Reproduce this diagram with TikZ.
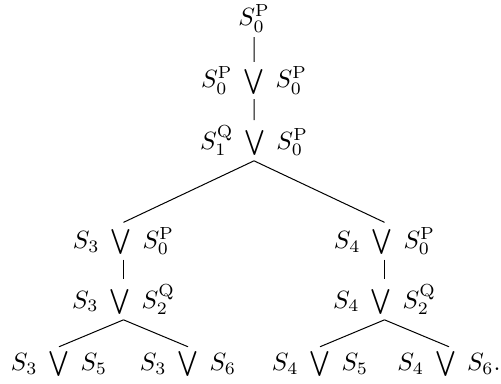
\documentclass[tikz,border=0pt]{standalone}
\begin{document}
\begin{tikzpicture}[every node/.style={inner sep=1.8pt},
  edge from parent/.style={draw},
  edge from parent path={(\tikzparentnode.south) -- (\tikzchildnode.north)},
  level 1/.style={level distance=24.8pt},
  level 2/.style={level distance=24pt},
  level 3/.style={level distance=40.2pt, sibling distance=104.4pt},
  level 4/.style={level distance=23.4pt},
  level 5/.style={level distance=25.9pt, sibling distance=51.6pt}]
\useasboundingbox (0,0) rectangle (200.4pt,153.2pt);
\node (root) at (101.6pt,145.8pt) {$S_0^{\mathrm{P}}$}
  child { node (top) {$S_0^{\mathrm{P}} \;\bigvee\; S_0^{\mathrm{P}}$}
    child { node (mid) {$S_1^{\mathrm{Q}} \;\bigvee\; S_0^{\mathrm{P}}$}
      child { node (left) {$S_3 \;\bigvee\; S_0^{\mathrm{P}}$}
        child { node (leftq) {$S_3 \;\bigvee\; S_2^{\mathrm{Q}}$}
          child { node (leaf1) {$S_3 \;\bigvee\; S_5$} }
          child { node (leaf2) {$S_3 \;\bigvee\; S_6$} } } }
      child { node (right) {$S_4 \;\bigvee\; S_0^{\mathrm{P}}$}
        child { node (rightq) {$S_4 \;\bigvee\; S_2^{\mathrm{Q}}$}
          child { node (leaf3) {$S_4 \;\bigvee\; S_5$} }
          child { node (leaf4) {$S_4 \;\bigvee\; S_6$.} } } } } };
\end{tikzpicture}
\end{document}
